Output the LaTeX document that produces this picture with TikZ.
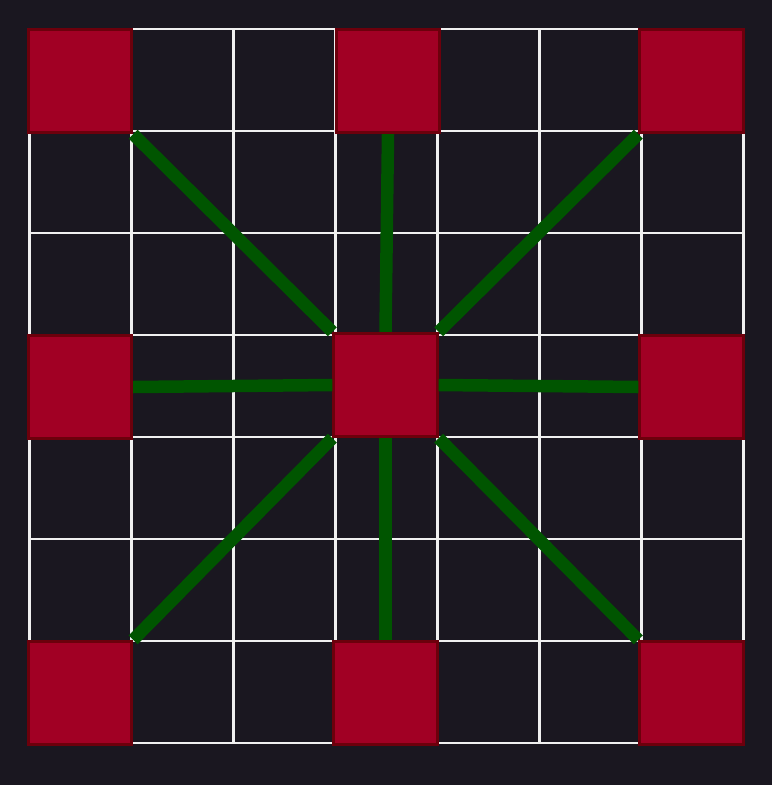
\documentclass[tikz,border=0pt]{standalone}
\usepackage{tikz}
\usetikzlibrary{positioning}

\definecolor{bgdark}{RGB}{26,23,32}
\definecolor{tilered}{RGB}{161,0,36}
\definecolor{tileedge}{RGB}{108,0,12}
\definecolor{linkgreen}{RGB}{0,85,0}
\definecolor{gridwhite}{RGB}{240,240,240}

\begin{document}
\begin{tikzpicture}[x=1pt,y=-1pt,
    tile/.style={draw=tileedge, line width=2.8pt, fill=tilered, minimum size=103.5pt, inner sep=0pt},
    link/.style={draw=linkgreen, line width=12.5pt}]
% canvas (pixel units, y downwards)
\fill[bgdark] (0,0) rectangle (772,785);
% 7x7 board, cell = 102
\foreach \k in {0,...,7} {
    \draw[gridwhite, line width=2.2pt] (29.5+102*\k,29) -- (29.5+102*\k,743);
    \draw[gridwhite, line width=2.2pt] (29.5,29+102*\k) -- (743.5,29+102*\k);
}
% tiles
\node[tile] (tl) at (80,81) {};
\node[tile] (tm) at (388,81) {};
\node[tile] (tr) at (691.5,81) {};
\node[tile] (ml) at (80,387) {};
\node[tile] (c)  at (385.5,385) {};
\node[tile] (mr) at (691.5,387) {};
\node[tile] (bl) at (80,693) {};
\node[tile] (bm) at (385.5,693) {};
\node[tile] (br) at (691.5,693) {};
% links from the centre tile
\foreach \from/\to in {north west/tl.south east, north/tm.south, north east/tr.south west,
                       west/ml.east, east/mr.west,
                       south west/bl.north east, south/bm.north, south east/br.north west} {
    \draw[link] (c.\from) -- (\to);
}
\end{tikzpicture}
\end{document}
